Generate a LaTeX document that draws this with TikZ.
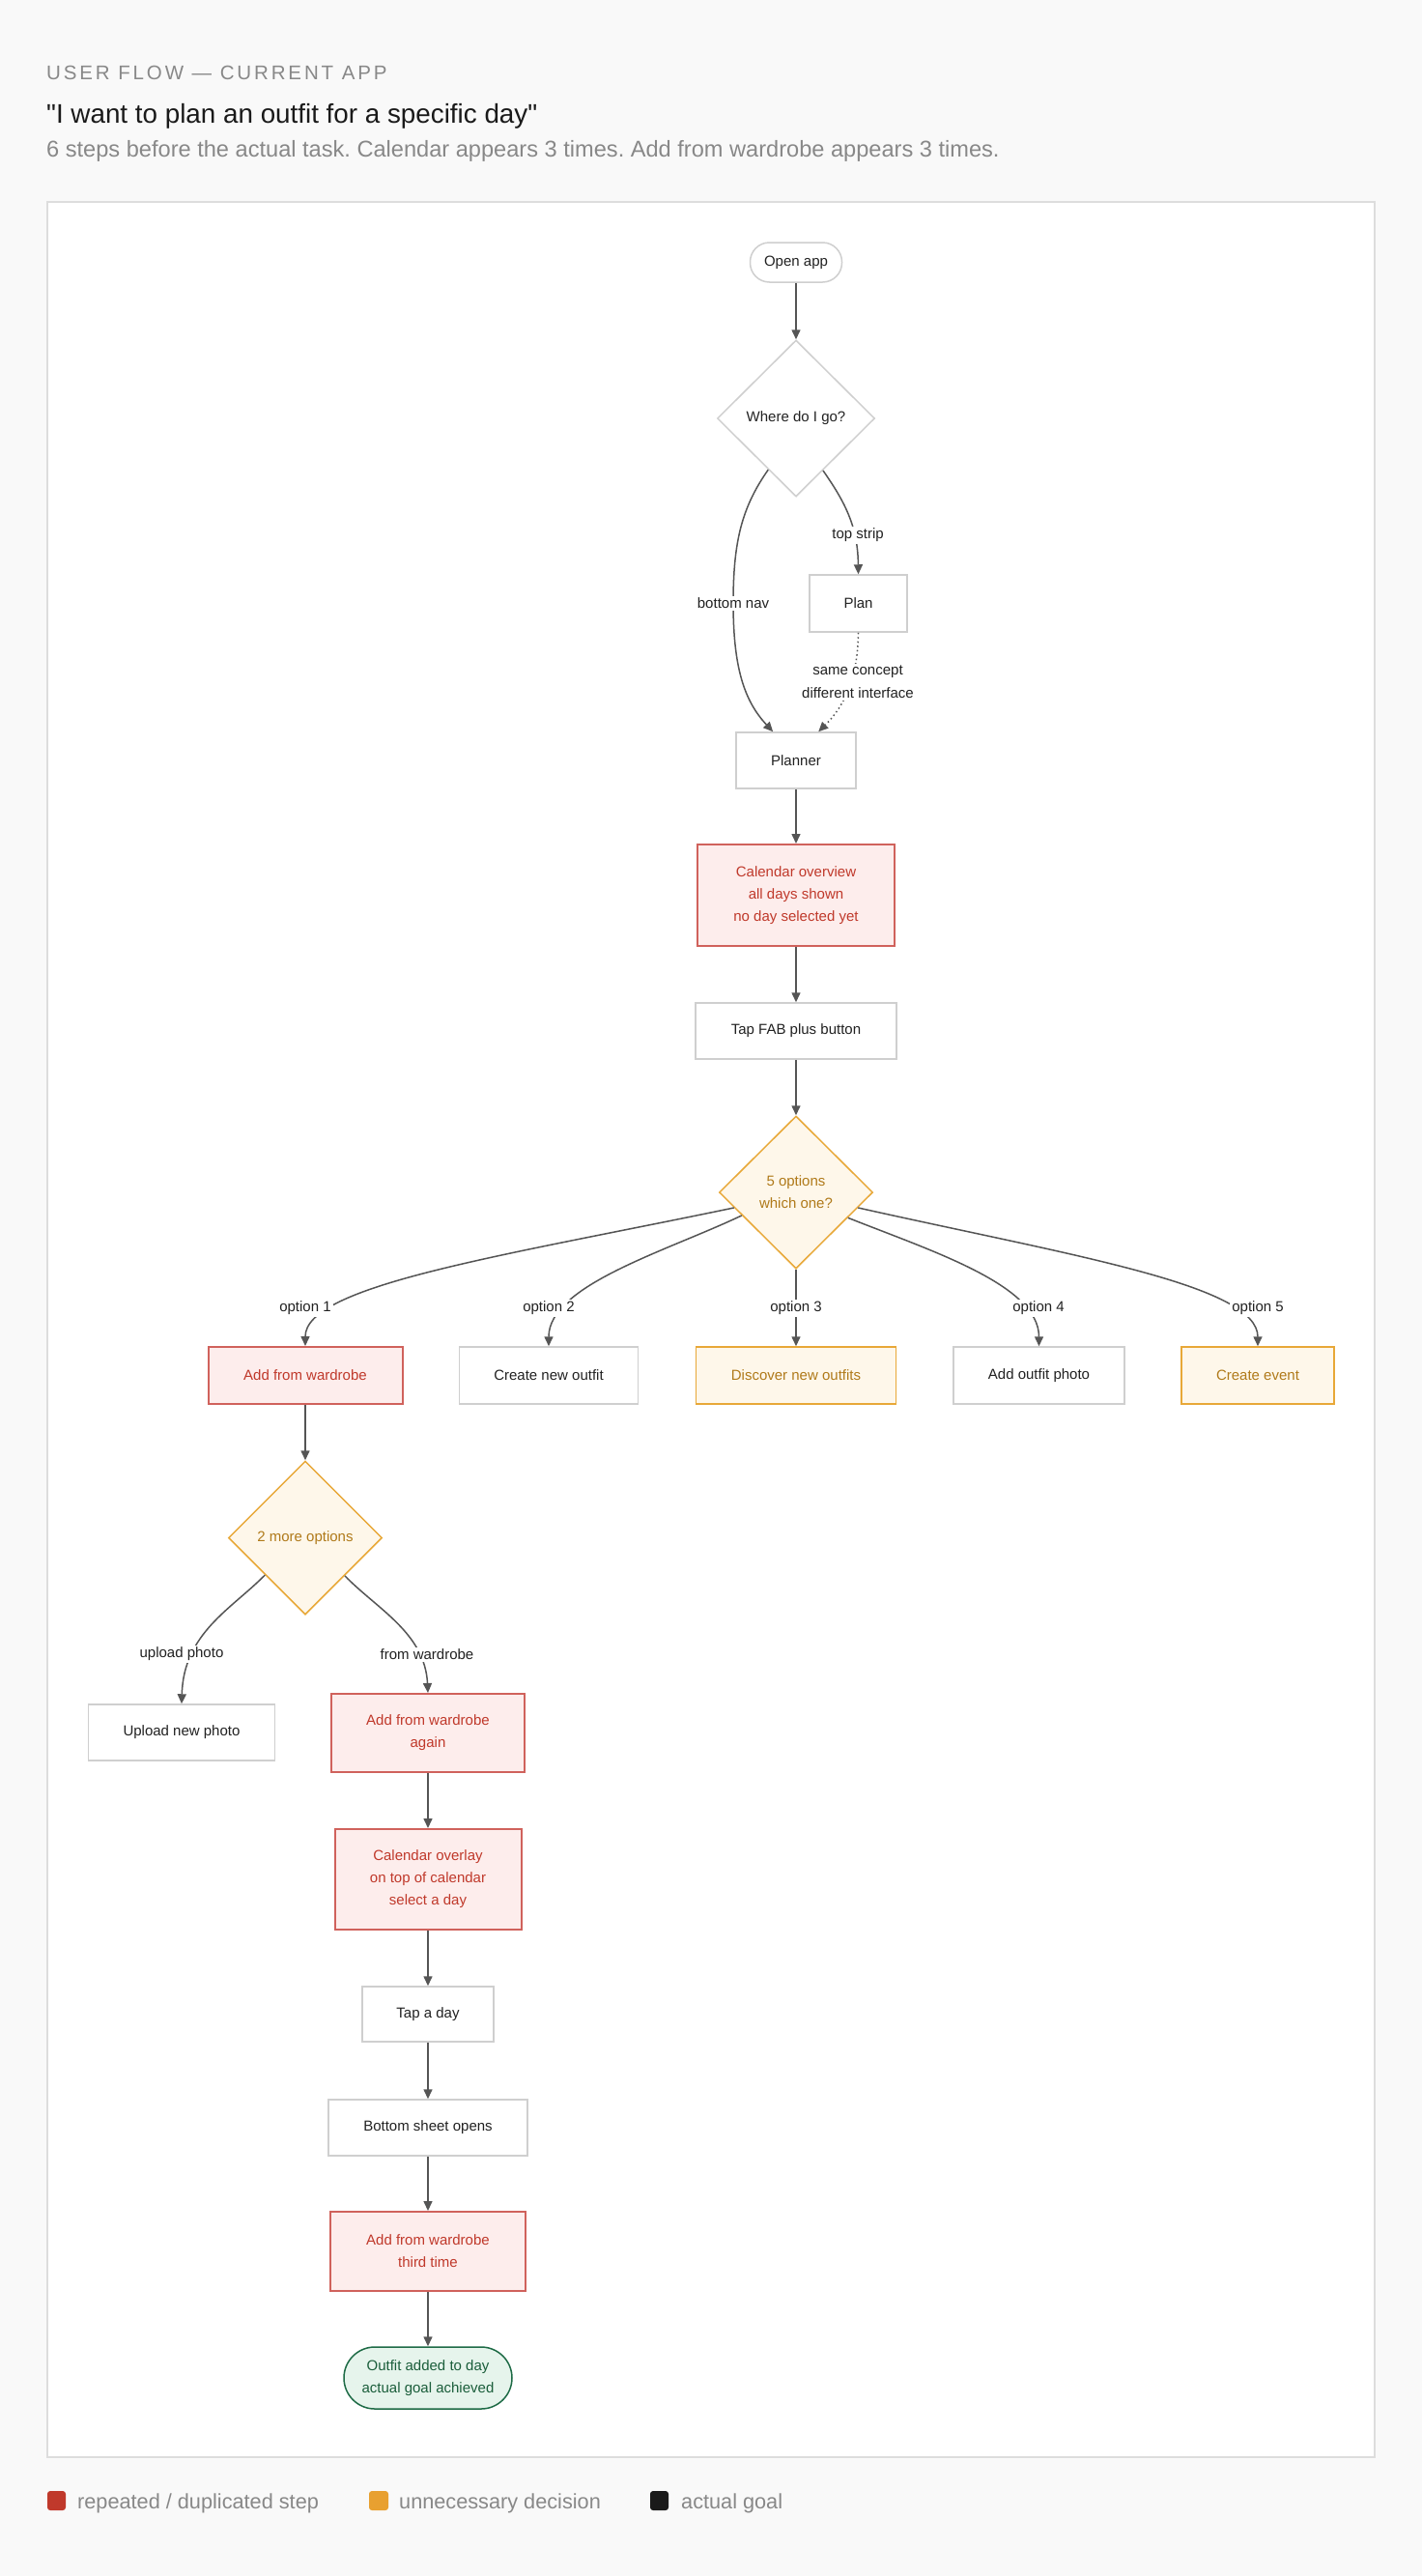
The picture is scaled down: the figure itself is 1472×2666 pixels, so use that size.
\documentclass[tikz,border=0pt]{standalone}
\usepackage{fontspec}
\setmainfont{Liberation Sans}
\usetikzlibrary{arrows.meta,shapes.geometric,calc}
\definecolor{bgc}{HTML}{F9F9F9}
\definecolor{framec}{HTML}{DDDDDD}
\definecolor{boxborder}{HTML}{CFCFCF}
\definecolor{txt}{HTML}{222222}
\definecolor{redborder}{HTML}{D0625C}
\definecolor{redfill}{HTML}{FDEDEC}
\definecolor{redtext}{HTML}{C0392B}
\definecolor{orborder}{HTML}{E8A838}
\definecolor{orfill}{HTML}{FEF7EA}
\definecolor{ortext}{HTML}{B07A1A}
\definecolor{grborder}{HTML}{1E6B46}
\definecolor{grfill}{HTML}{E6F4EC}
\definecolor{grtext}{HTML}{1B5E3B}
\definecolor{edgec}{HTML}{555555}
\definecolor{greytext}{HTML}{888888}
\definecolor{titletext}{HTML}{1A1A1A}
\definecolor{legred}{HTML}{C0392B}
\definecolor{legor}{HTML}{E8A030}
\definecolor{legblack}{HTML}{1A1A1A}
\newcommand{\fsNode}{\fontsize{15}{23}\selectfont}
\frenchspacing
\begin{document}
\begin{tikzpicture}[x=1pt,y=-1pt,
  box/.style={draw=boxborder, fill=white, line width=1.5pt, inner sep=0pt, text=txt, font=\fsNode, align=center},
  redbox/.style={box, draw=redborder, fill=redfill, text=redtext, line width=2pt},
  orbox/.style={box, draw=orborder, fill=orfill, text=ortext},
  pill/.style={box, rounded corners=20pt},
  dia/.style={diamond, aspect=1, draw=boxborder, fill=white, line width=1.5pt, inner sep=0pt, text=txt, font=\fsNode, align=center},
  ordia/.style={dia, draw=orborder, fill=orfill, text=ortext},
  lbl/.style={fill=white, inner sep=2pt, text=txt, font=\fsNode, align=center},
  arr/.style={draw=edgec, line width=1.5pt, -{Triangle[length=10pt,width=9pt]}},
  legsq/.style={rounded corners=3pt}
]
\useasboundingbox (0,0) rectangle (1472,2666);
\fill[bgc] (0,0) rectangle (1472,2666);
\draw[framec, fill=white, line width=2pt] (49,209) rectangle (1423,2543);

% header texts
\node[anchor=base west, inner sep=0pt, text=greytext, font=\fontsize{20.5}{24}\selectfont] (hdr) at (48,82) {\addfontfeature{LetterSpace=14}USER FLOW — CURRENT APP};
\node[anchor=base west, inner sep=0pt, text=titletext, font=\fontsize{27.8}{33}\selectfont] (ttl) at (48,127) {\textquotedbl I want to plan an outfit for a specific day\textquotedbl};
\node[anchor=base west, inner sep=0pt, text=greytext, font=\fontsize{23.6}{28}\selectfont] (sub) at (48,162) {6 steps before the actual task. Calendar appears 3 times. Add from wardrobe appears 3 times.};

% nodes
\node[pill, minimum width=95pt, minimum height=41pt] (open) at (824,271.5) {Open app};
\node[dia, minimum width=163pt, minimum height=162pt] (d1) at (824,433) {Where do I go?};
\node[box, minimum width=101pt, minimum height=59pt] (plan) at (888.5,624.5) {Plan};
\node[box, minimum width=124pt, minimum height=58pt] (planner) at (824,787) {Planner};
\node[redbox, minimum width=204pt, minimum height=105pt] (cal) at (824,926.5) {Calendar overview\\all days shown\\no day selected yet};
\node[box, minimum width=208pt, minimum height=58pt] (fab) at (824,1067) {Tap FAB plus button};
\node[ordia, minimum width=159pt, minimum height=158pt] (d5) at (824,1234) {5 options\\which one?};
\node[redbox, minimum width=201pt, minimum height=59pt] (aw) at (316,1423.5) {Add from wardrobe};
\node[box, minimum width=185pt, minimum height=59pt] (cno) at (568,1423.5) {Create new outfit};
\node[orbox, minimum width=207pt, minimum height=59pt] (dno) at (824,1423.5) {Discover new outfits};
\node[box, minimum width=177pt, minimum height=59pt] (aop) at (1075.5,1423.5) {Add outfit photo};
\node[orbox, minimum width=158pt, minimum height=59pt] (ce) at (1302,1423.5) {Create event};
\node[ordia, minimum width=159pt, minimum height=159pt] (d2) at (316,1591.5) {2 more options};
\node[box, minimum width=193pt, minimum height=58pt] (unp) at (188,1793) {Upload new photo};
\node[redbox, minimum width=200pt, minimum height=81pt] (awa) at (443,1793.5) {Add from wardrobe\\again};
\node[redbox, minimum width=193pt, minimum height=104pt] (cov) at (443,1945) {Calendar overlay\\on top of calendar\\select a day};
\node[box, minimum width=136pt, minimum height=57pt] (tad) at (443,2084.5) {Tap a day};
\node[box, minimum width=206pt, minimum height=58pt] (bso) at (443,2202) {Bottom sheet opens};
\node[redbox, minimum width=202pt, minimum height=82pt] (awt) at (443,2330) {Add from wardrobe\\third time};
\node[pill, draw=grborder, fill=grfill, text=grtext, minimum width=174pt, minimum height=64pt, rounded corners=32pt] (goal) at (443,2461) {Outfit added to day\\actual goal achieved};

% label coordinates
\coordinate (cts) at (888,554);
\coordinate (cbn) at (759,624);
\coordinate (csc) at (888,706);
\coordinate (co1) at (316,1354);
\coordinate (co2) at (568,1354);
\coordinate (co3) at (824,1354);
\coordinate (co4) at (1075,1354);
\coordinate (co5) at (1302,1354);
\coordinate (cup) at (188,1712);
\coordinate (cfw) at (442,1712);

% edges
\draw[arr] (open.south) -- (d1.north);
\draw[arr] ($(d1.east)!0.66!(d1.south)$) .. controls (875,520) and (888,545) .. (plan.north);
\draw[arr] ($(d1.west)!0.65!(d1.south)$) .. controls (768,525) and (759,560) .. (cbn)
   .. controls (759,690) and (770,725) .. ($(planner.north west)!0.31!(planner.north east)$);
\draw[arr, dash pattern=on 1.5pt off 3pt] (plan.south) .. controls (888,700) and (875,730) .. ($(planner.north west)!0.685!(planner.north east)$);
\draw[arr] (planner.south) -- (cal.north);
\draw[arr] (cal.south) -- (fab.north);
\draw[arr] (fab.south) -- (d5.north);
\draw[arr] ($(d5.west)!0.2!(d5.south)$) .. controls (520,1300) and (316,1330) .. (aw.north);
\draw[arr] ($(d5.west)!0.3!(d5.south)$) .. controls (690,1295) and (568,1330) .. (cno.north);
\draw[arr] (d5.south) -- (dno.north);
\draw[arr] ($(d5.east)!0.33!(d5.south)$) .. controls (965,1295) and (1075.5,1330) .. (aop.north);
\draw[arr] ($(d5.east)!0.2!(d5.south)$) .. controls (1112,1300) and (1302,1330) .. (ce.north);
\draw[arr] (aw.south) -- (d2.north);
\draw[arr] ($(d2.west)!0.48!(d2.south)$) .. controls (240,1665) and (190,1690) .. (unp.north);
\draw[arr] ($(d2.east)!0.49!(d2.south)$) .. controls (390,1665) and (440,1690) .. (awa.north);
\draw[arr] (awa.south) -- (cov.north);
\draw[arr] (cov.south) -- (tad.north);
\draw[arr] (tad.south) -- (bso.north);
\draw[arr] (bso.south) -- (awt.north);
\draw[arr] (awt.south) -- (goal.north);

% edge labels
\node[lbl] (lts) at (cts) {top strip};
\node[lbl] (lbn) at (cbn) {bottom nav};
\node[lbl, font=\fontsize{15}{24}\selectfont] (lsc) at (csc) {same concept\\different interface};
\node[lbl] (lo1) at (co1) {option 1};
\node[lbl] (lo2) at (co2) {option 2};
\node[lbl] (lo3) at (co3) {option 3};
\node[lbl] (lo4) at (co4) {option 4};
\node[lbl] (lo5) at (co5) {option 5};
\node[lbl] (lup) at (cup) {upload photo};
\node[lbl] (lfw) at (cfw) {from wardrobe};

% legend
\fill[legred, legsq] (49,2578) rectangle (68,2598);
\node[anchor=base west, inner sep=0pt, text=greytext, font=\fontsize{21.7}{26}\selectfont] (leg1) at (80,2596) {repeated / duplicated step};
\fill[legor, legsq] (382,2578) rectangle (402,2598);
\node[anchor=base west, inner sep=0pt, text=greytext, font=\fontsize{21.7}{26}\selectfont] (leg2) at (413,2596) {unnecessary decision};
\fill[legblack, legsq] (673,2578) rectangle (692,2598);
\node[anchor=base west, inner sep=0pt, text=greytext, font=\fontsize{21.7}{26}\selectfont] (leg3) at (705,2596) {actual goal};
\end{tikzpicture}
\end{document}
